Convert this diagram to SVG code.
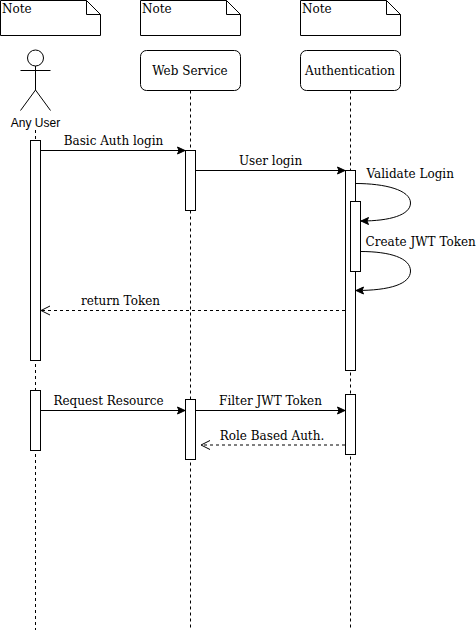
<svg xmlns="http://www.w3.org/2000/svg" width="476" height="632" viewBox="0 0 476 632">
<style>
.s{fill:#fff;stroke:#000;stroke-width:1}
.l{fill:none;stroke:#000;stroke-width:1}
.d{fill:none;stroke:#000;stroke-width:1;stroke-dasharray:3 3}
text{font-family:"DejaVu Serif",serif;font-size:12px;fill:#000}
.m{text-anchor:middle}
</style>
<defs>
<marker id="f" markerUnits="userSpaceOnUse" markerWidth="10" markerHeight="10" refX="8.5" refY="5" orient="auto"><path d="M1 1.5L8.5 5L1 8.5L2.5 5Z" fill="#000" stroke="#000"/></marker>
<marker id="o" markerUnits="userSpaceOnUse" markerWidth="11" markerHeight="11" refX="10" refY="5.5" orient="auto"><path d="M1 1L10 5.5L1 10" fill="none" stroke="#000"/></marker>
</defs>
<rect width="476" height="632" fill="#fff"/>
<g id="lifelines">
<path class="d" d="M35.5 130V630"/>
<path class="d" d="M190.5 90.5V630"/>
<path class="d" d="M350.5 90.5V630"/>
</g>
<g id="note1"><path class="s" d="M0.5 0.5H86.5L100.5 14.5V35.5H0.5Z"/><path class="l" d="M86.5 0.5V14.5H100.5"/><text x="2" y="13">Note</text></g>
<g id="note2"><path class="s" d="M140.5 0.5H226.5L240.5 14.5V35.5H140.5Z"/><path class="l" d="M226.5 0.5V14.5H240.5"/><text x="142" y="13">Note</text></g>
<g id="note3"><path class="s" d="M300.5 0.5H386.5L400.5 14.5V35.5H300.5Z"/><path class="l" d="M386.5 0.5V14.5H400.5"/><text x="302" y="13">Note</text></g>
<g id="actor">
<circle class="s" cx="35.5" cy="58" r="8"/>
<path class="l" d="M35.5 66V90M20.5 70.5H50.5M20.5 110.5L35.5 90L50.5 110.5"/>
<text class="m" x="35.5" y="127" style="font-family:'Liberation Sans',Arial,sans-serif">Any User</text>
</g>
<g id="webservice"><rect class="s" x="140.5" y="50.5" width="100" height="40" rx="6"/><text class="m" x="190" y="75">Web Service</text></g>
<g id="authentication"><rect class="s" x="300.5" y="50.5" width="100" height="40" rx="6"/><text class="m" x="350" y="75">Authentication</text></g>
<g id="activations">
<rect class="s" x="30.5" y="140.5" width="10" height="220"/>
<rect class="s" x="30.5" y="390.5" width="10" height="60"/>
<rect class="s" x="185.5" y="150.5" width="10" height="60"/>
<rect class="s" x="185.5" y="399.5" width="10" height="60"/>
<rect class="s" x="345.5" y="170.5" width="10" height="200"/>
<rect class="s" x="350.5" y="201.5" width="10" height="70"/>
<rect class="s" x="345.5" y="394.5" width="10" height="60"/>
</g>
<g id="connectors">
<path class="l" marker-end="url(#f)" d="M40.5 150.5H185"/>
<path class="l" marker-end="url(#f)" d="M195.5 170.5H345"/>
<path class="l" marker-end="url(#f)" d="M355.5 183.5C385 183.5 410.5 190 410.5 203C410.5 215 390 221 361 221"/>
<path class="l" marker-end="url(#f)" d="M360.5 251.5C390 251.5 410.5 258 410.5 271C410.5 284 390 290.5 356 290.5"/>
<path class="d" marker-end="url(#o)" d="M345 310.5H41"/>
<path class="l" marker-end="url(#f)" d="M40.5 410.5H185"/>
<path class="l" marker-end="url(#f)" d="M195.5 410.5H345"/>
<path class="d" marker-end="url(#o)" d="M345 445H201"/>
</g>
<g id="labels">
<text class="m" x="113.5" y="145">Basic Auth login</text>
<text class="m" x="270.5" y="165">User login</text>
<text x="366.5" y="178">Validate Login</text>
<text x="365.5" y="246">Create JWT Token</text>
<text class="m" x="120.5" y="305">return Token</text>
<text class="m" x="108.5" y="405">Request Resource</text>
<text class="m" x="270.5" y="405">Filter JWT Token</text>
<text class="m" x="272" y="440">Role Based Auth.</text>
</g>
</svg>
